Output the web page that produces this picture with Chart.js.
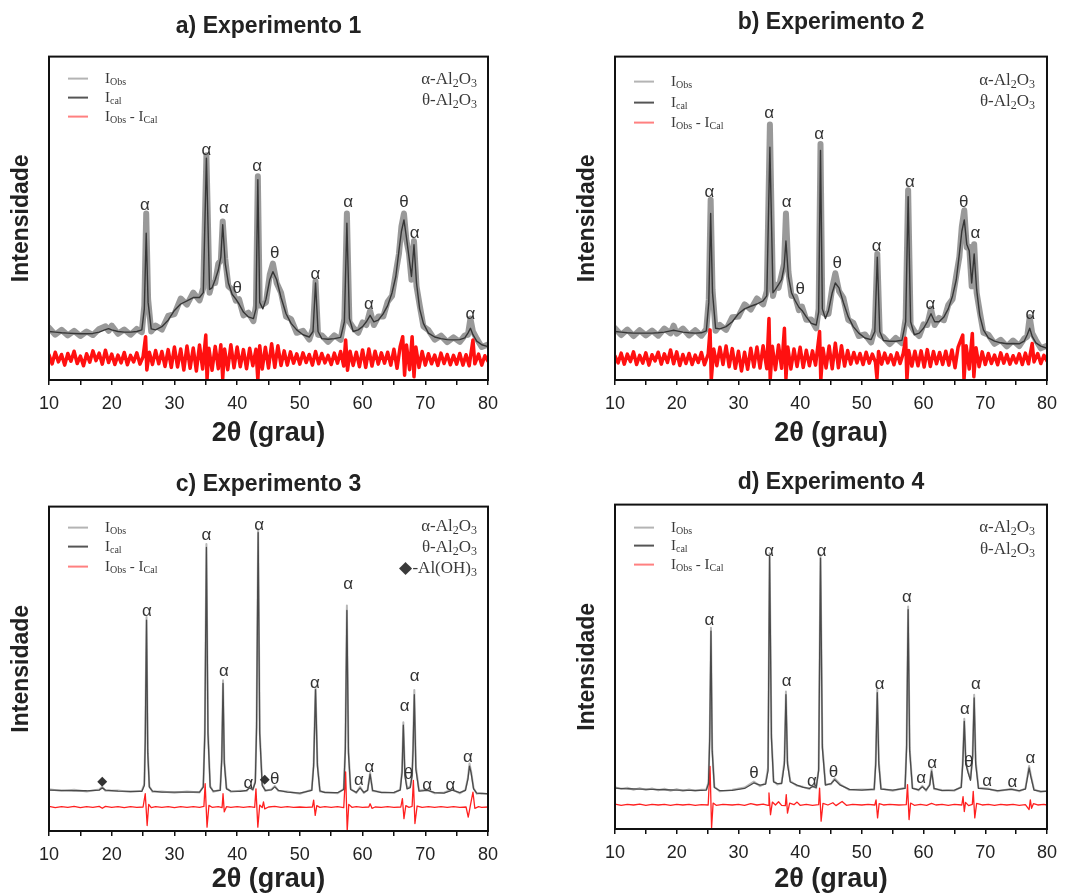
<!DOCTYPE html>
<html>
<head>
<meta charset="utf-8">
<script src="https://cdn.jsdelivr.net/npm/chart.js@4/dist/chart.umd.min.js"></script>
<style>
  html, body { margin: 0; padding: 0; background: #fff; overflow: hidden; }
  .panel { position: absolute; }
</style>
</head>
<body>
<div class="panel" id="pa" style="left:0;top:0;width:532px;height:450px"><canvas id="ca"></canvas></div>
<div class="panel" id="pb" style="left:566px;top:0;width:499px;height:450px"><canvas id="cb"></canvas></div>
<div class="panel" id="pc" style="left:0;top:450px;width:532px;height:446px"><canvas id="cc"></canvas></div>
<div class="panel" id="pd" style="left:566px;top:450px;width:499px;height:446px"><canvas id="cd"></canvas></div>
<script>
// [2theta, intensity], intensity in % of panel height
const calcA = [[10,15.0],[11,14.8],[12,14.6],[13,14.5],[14,14.4],[15,14.3],[16,14.3],[17,14.4],[18,14.8],[19,15.6],[19.5,15.9],[20,15.5],[21,15.0],[22,14.8],[23,14.8],[24,15.0],[24.8,15.5],[25.2,22],[25.5,45.4],[25.8,24],[26.3,15.8],[27,15.5],[28,16.5],[29,18.5],[30,21.5],[31,23.5],[32,24.5],[33,25.5],[34,25.5],[34.6,27],[35.1,68.6],[35.6,28],[36,28.5],[36.5,31],[37,34],[37.4,38],[37.7,48],[38.1,36],[38.6,30],[39.2,26.5],[39.8,25],[40.3,23.5],[41,21],[41.8,19.5],[42.6,19],[43,22],[43.3,61.9],[43.6,24],[44.1,22],[44.6,25],[45.2,31],[45.7,33.5],[46.3,31],[47,25.5],[47.8,20.5],[48.6,17.5],[49.5,15.5],[50.5,14],[51.5,13.3],[52.1,15],[52.5,30],[52.9,15],[53.5,12.8],[54.5,12.6],[55.5,12.8],[56.5,13.2],[57.1,18],[57.5,48.5],[57.9,19],[58.5,15],[59.3,15.5],[60,16.5],[60.6,18],[61.2,20],[61.8,18],[62.5,18.5],[63.3,20.5],[64,23],[64.7,27],[65.3,32],[65.8,40],[66.2,46],[66.6,49.5],[67,44],[67.4,38],[67.8,32],[68.2,41.8],[68.6,30],[69.1,22],[69.7,17.5],[70.5,14.5],[71.5,13.3],[72.5,12.8],[73.5,12.5],[74.5,12.4],[75.5,12.5],[76.3,13],[76.8,14.5],[77.2,16],[77.6,14],[78.2,12],[79,10.9],[80,10.3]];
const obsA = [[10,16.2],[11,14.0],[12,15.5],[13,13.8],[14,15.2],[15,13.6],[16,15.0],[17,13.9],[18,15.8],[19,16.6],[19.5,15.2],[20,16.8],[21,14.3],[22,15.6],[23,14.0],[24,15.8],[24.8,14.8],[25.2,23],[25.5,51.5],[25.8,25],[26.3,15.0],[27,16.8],[28,15.6],[29,19.8],[30,20.4],[31,25.2],[32,23.3],[33,27.0],[34,24.6],[34.6,28.5],[35.1,69.5],[35.6,27],[36,30.0],[36.5,30],[37,36],[37.4,37],[37.7,49],[38.1,37.5],[38.6,29],[39.2,28],[39.8,24.5],[40.3,25],[41,20],[41.8,20.8],[42.6,18.2],[43,23],[43.3,63],[43.6,23],[44.1,23.4],[44.6,24],[45.2,32.6],[45.7,36],[46.3,30],[47,27],[47.8,19.6],[48.6,18.8],[49.5,14.6],[50.5,15.2],[51.5,12.5],[52.1,16],[52.5,30.5],[52.9,14],[53.5,13.8],[54.5,11.8],[55.5,13.8],[56.5,12.4],[57.1,19],[57.5,51.5],[57.9,18],[58.5,16.2],[59.3,14.6],[60,17.8],[60.6,17],[61.2,21.4],[61.8,17],[62.5,19.6],[63.3,19.6],[64,24.2],[64.7,26],[65.3,33.2],[65.8,39],[66.2,47.5],[66.6,51.5],[67,43],[67.4,39.2],[67.8,31],[68.2,43],[68.6,29],[69.1,23.2],[69.7,16.6],[70.5,15.4],[71.5,12.5],[72.5,13.7],[73.5,11.7],[74.5,13.2],[75.5,11.8],[76.3,13.8],[76.8,14],[77.2,19],[77.6,15],[78.2,12.8],[79,10.2],[80,11]];
const diffA = [[10,7.8],[10.5,5.0],[11,8.6],[11.5,5.6],[12,7.9],[12.5,4.6],[13,8.2],[13.5,5.8],[14,8.9],[14.5,5.1],[15,7.4],[15.5,4.4],[16,8.1],[16.5,5.5],[17,9.0],[17.5,6.0],[18,8.3],[18.5,4.9],[19,9.2],[19.5,5.4],[20,8.0],[20.5,4.8],[21,7.7],[21.5,5.3],[22,8.5],[22.5,4.7],[23,7.6],[23.5,5.6],[24,8.4],[24.5,4.9],[25,7.2],[25.4,13.4],[25.6,3.1],[26,8.6],[26.5,4.8],[27,9.1],[27.5,5.0],[28,8.8],[28.5,4.2],[29,9.4],[29.5,3.9],[30,10.2],[30.5,4.0],[31,9.6],[31.5,3.1],[32,10.5],[32.5,3.6],[33,9.9],[33.5,2.8],[34,10.8],[34.5,3.4],[35.0,13.9],[35.2,0.2],[35.5,9.8],[36,3.0],[36.5,10.4],[37,3.5],[37.4,10.9],[37.7,0.5],[38,9.6],[38.5,3.2],[39,10.9],[39.5,3.8],[40,10.2],[40.5,4.1],[41,9.4],[41.5,3.5],[42,9.8],[42.5,4.4],[43,9.5],[43.3,0.0],[43.6,10.6],[44,3.4],[44.5,10.1],[45,3.7],[45.5,11.2],[46,3.9],[46.5,10.6],[47,4.5],[47.5,9.0],[48,4.6],[48.5,8.7],[49,5.2],[49.5,8.1],[50,4.9],[50.5,8.4],[51,5.4],[51.5,7.9],[52,4.6],[52.5,8.8],[53,5.0],[53.5,8.2],[54,5.3],[54.5,7.6],[55,4.8],[55.5,8.3],[56,5.2],[56.5,8.8],[57.0,4.3],[57.3,12.4],[57.6,3.0],[58,8.9],[58.5,4.5],[59,8.6],[59.5,4.1],[60,9.3],[60.5,3.9],[61,9.6],[61.5,4.3],[62,8.9],[62.5,4.9],[63,8.4],[63.5,5.2],[64,8.6],[64.5,4.6],[65,9.5],[65.5,3.6],[66,10.4],[66.4,13.4],[66.7,1.5],[67,10.8],[67.5,3.2],[67.9,13.4],[68.2,1.0],[68.5,10.2],[69,3.9],[69.5,8.8],[70,4.6],[70.5,8.1],[71,5.0],[71.5,7.7],[72,4.5],[72.5,8.3],[73,5.1],[73.5,7.9],[74,4.7],[74.5,7.6],[75,4.9],[75.5,8.2],[76,4.6],[76.5,7.8],[77,4.4],[77.6,12.4],[77.9,5.0],[78.5,8.0],[79,4.6],[79.5,7.5],[80,5.8]];

const calcB = [[10,15.0],[11,14.8],[12,14.6],[13,14.5],[14,14.5],[15,14.5],[16,14.5],[17,14.6],[18,14.8],[19,15.2],[19.5,15.4],[20,15.2],[21,14.8],[22,14.6],[23,14.5],[24,14.6],[24.8,15.2],[25.2,24],[25.5,51.5],[25.8,27],[26.3,16],[27,15.8],[28,16.5],[29,18],[30,20.5],[31,22],[32,22.8],[33,23.5],[34,24.5],[34.6,26],[35.1,72],[35.6,27],[36,28],[36.5,29.5],[37,31],[37.4,35],[37.7,43],[38.1,32],[38.6,27],[39.2,24.5],[39.8,22.5],[40.3,21.5],[41,19.5],[41.8,17.5],[42.6,17],[43,21],[43.3,71],[43.6,22],[44.1,19],[44.6,21.5],[45.2,27],[45.7,30],[46.3,28.5],[47,24],[47.8,19.5],[48.6,16.5],[49.5,14.5],[50.5,13],[51.5,12.5],[52.1,15],[52.5,38],[52.9,15],[53.5,12.2],[54.5,12],[55.5,12],[56.5,12.3],[57.1,18],[57.5,56.7],[57.9,18],[58.5,14],[59.3,14.5],[60,16],[60.6,18],[61.2,20.5],[61.8,18],[62.5,18],[63.3,19.5],[64,22],[64.7,26],[65.3,31],[65.8,39],[66.2,46],[66.6,49.5],[67,42],[67.4,40],[67.8,30],[68.2,39],[68.6,28],[69.1,20],[69.7,15.5],[70.5,13],[71.5,12],[72.5,11.5],[73.5,11.2],[74.5,11.3],[75.5,11.2],[76.3,12],[76.8,14],[77.2,16],[77.6,13.5],[78.2,11.5],[79,10.5],[80,9.8]];
const obsB = [[10,16.0],[11,13.9],[12,15.6],[13,13.6],[14,15.4],[15,13.8],[16,15.3],[17,13.7],[18,15.9],[19,14.4],[19.5,16.8],[20,14.3],[21,15.9],[22,13.8],[23,15.4],[24,13.7],[24.8,15.8],[25.2,25],[25.5,55.7],[25.8,28],[26.3,15.2],[27,17],[28,15.5],[29,19.4],[30,19.6],[31,23.4],[32,21.8],[33,25.2],[34,23.4],[34.6,27.5],[35.1,79],[35.6,26],[36,29.5],[36.5,28.5],[37,32.6],[37.4,36],[37.7,51.5],[38.1,33.5],[38.6,26],[39.2,25.8],[39.8,21.6],[40.3,22.7],[41,18.6],[41.8,18.7],[42.6,16],[43,22],[43.3,73],[43.6,21],[44.1,20.3],[44.6,20.5],[45.2,28.5],[45.7,33],[46.3,27.5],[47,25.4],[47.8,18.6],[48.6,17.7],[49.5,13.6],[50.5,14.1],[51.5,11.6],[52.1,16],[52.5,39],[52.9,14],[53.5,13.2],[54.5,11.1],[55.5,13],[56.5,11.4],[57.1,19],[57.5,58.7],[57.9,17],[58.5,15.1],[59.3,13.6],[60,17.2],[60.6,17],[61.2,22],[61.8,17],[62.5,19.2],[63.3,18.5],[64,23.2],[64.7,25],[65.3,32.3],[65.8,38],[66.2,47.5],[66.6,52.5],[67,41],[67.4,41.2],[67.8,29],[68.2,42],[68.6,27],[69.1,21.2],[69.7,14.6],[70.5,14],[71.5,11.2],[72.5,12.4],[73.5,10.4],[74.5,12.2],[75.5,10.5],[76.3,12.8],[76.8,13.4],[77.2,19.5],[77.6,14.5],[78.2,12.3],[79,9.8],[80,10.6]];
const diffB = [[10,7.4],[10.5,5.3],[11,8.3],[11.5,4.9],[12,8.0],[12.5,5.7],[13,8.7],[13.5,4.8],[14,7.6],[14.5,5.2],[15,8.4],[15.5,4.6],[16,7.8],[16.5,5.9],[17,8.6],[17.5,4.9],[18,8.1],[18.5,5.4],[19,9.3],[19.5,5.0],[20,8.7],[20.5,4.5],[21,7.9],[21.5,5.1],[22,8.2],[22.5,4.8],[23,7.7],[23.5,5.4],[24,8.5],[24.5,4.7],[25.1,8.0],[25.4,15.5],[25.6,0],[26,9.6],[26.5,4.4],[27,10.1],[27.5,4.8],[28,10.5],[28.5,4.1],[29,9.7],[29.5,3.6],[30,8.9],[30.5,2.8],[31,8.6],[31.5,3.3],[32,9.8],[32.5,4.0],[33,10.2],[33.5,3.7],[34,10.6],[34.6,3.5],[34.95,19],[35.15,0],[35.5,10.4],[36,3.2],[36.5,10.8],[37,3.6],[37.45,16],[37.7,0.5],[38,10.2],[38.5,3.4],[39,9.6],[39.5,4.2],[40,10.1],[40.5,3.9],[41,9.2],[41.5,4.4],[42,9.0],[42.5,4.6],[43.15,15],[43.35,0],[43.7,9.8],[44.2,3.7],[44.7,10.5],[45.2,3.5],[45.7,11.4],[46.2,3.8],[46.7,10.6],[47.2,4.3],[47.7,9.1],[48.2,4.9],[48.7,8.5],[49.2,5.3],[49.7,8.2],[50.2,4.8],[50.7,8.6],[51.2,5.2],[51.7,8.0],[52.2,5.5],[52.45,0.5],[52.7,8.8],[53.2,4.9],[53.7,8.3],[54.2,5.3],[54.7,7.8],[55.2,4.7],[55.7,8.4],[56.2,5.1],[56.7,8.2],[57.1,12.9],[57.3,0],[57.6,9.1],[58.1,4.3],[58.6,8.9],[59.1,4.4],[59.6,9.0],[60.1,4.0],[60.6,9.4],[61.1,4.2],[61.6,8.8],[62.1,5.0],[62.6,8.5],[63.1,4.8],[63.6,8.9],[64.1,4.6],[64.6,9.3],[65.1,3.8],[65.6,10.2],[66.35,13.9],[66.55,0],[66.9,10.6],[67.4,3.4],[67.9,14.4],[68.15,1],[68.5,10.0],[69,4.1],[69.5,8.7],[70,4.8],[70.5,8.2],[71,5.1],[71.5,7.7],[72,4.7],[72.5,8.4],[73,5.2],[73.5,7.9],[74,4.9],[74.5,7.5],[75,5.3],[75.5,8.1],[76,4.8],[76.5,8.3],[77,5.0],[77.6,11.3],[77.9,5.6],[78.5,8.2],[79,5.1],[79.5,7.6],[80,5.9]];

const calcC = [[10,12.6],[12,12.5],[14,12.4],[16,12.4],[18,12.6],[18.5,13.3],[19,12.6],[21,12.3],[23,12.2],[24.8,12.2],[25.2,14],[25.35,28],[25.55,65],[25.75,24],[26,13.5],[26.5,12.3],[28,12],[30,12],[32,12],[34,12],[34.6,13.5],[34.85,30],[35.1,87.4],[35.35,30],[35.7,13.5],[36.2,12.3],[37.3,12.5],[37.55,22],[37.75,45.5],[37.95,21],[38.3,13],[39,12.3],[40.5,12.2],[41.5,12.5],[42,13.3],[42.5,12.8],[42.9,15],[43.1,32],[43.35,92],[43.6,30],[44,14],[44.5,12.5],[45.5,12.7],[46,13.6],[46.6,12.5],[48,12],[50,11.7],[51.9,12.5],[52.2,20],[52.5,43.6],[52.8,20],[53.2,12.4],[54,11.8],[56,11.8],[57,12.8],[57.25,25],[57.5,68],[57.75,24],[58.1,12.8],[59,11.9],[59.6,13.3],[60.2,11.9],[60.8,12.5],[61.2,17.5],[61.6,12.5],[63,11.8],[65,11.9],[66,12.6],[66.3,18],[66.5,32.6],[66.75,17],[67.1,13],[67.6,13.4],[67.9,17],[68.05,25],[68.25,42],[68.5,19],[69,12.3],[70.4,12.5],[71.5,11.8],[73,11.7],[74.3,12.6],[75.5,11.8],[76.4,12.5],[76.8,16],[77.05,20],[77.3,18],[77.7,13],[78.2,11.7],[79,11.5],[80,11.5]];
const obsC = [[10,12.9],[12,12.3],[14,12.7],[16,12.2],[18,12.8],[18.5,13.6],[19,12.4],[21,12.5],[23,12.0],[24.8,12.4],[25.2,14.5],[25.35,29],[25.55,66],[25.75,25],[26,13.8],[26.5,12.1],[28,12.2],[30,11.8],[32,12.2],[34,11.9],[34.6,13.8],[34.85,31],[35.1,88.5],[35.35,31],[35.7,13.9],[36.2,12.1],[37.3,12.7],[37.55,23],[37.75,46.5],[37.95,22],[38.3,13.3],[39,12.1],[40.5,12.4],[41.5,12.3],[42,13.6],[42.5,12.6],[42.9,15.5],[43.1,33],[43.35,93],[43.6,31],[44,14.5],[44.5,12.3],[45.5,12.9],[46,13.9],[46.6,12.3],[48,12.2],[50,11.5],[51.9,12.7],[52.2,21],[52.5,44.5],[52.8,21],[53.2,12.2],[54,12],[56,11.6],[57,13],[57.25,26],[57.5,69.5],[57.75,25],[58.1,13],[59,11.7],[59.6,13.6],[60.2,11.7],[60.8,12.7],[61.2,18],[61.6,12.3],[63,12],[65,11.7],[66,12.8],[66.3,19],[66.5,33.5],[66.75,18],[67.1,13.2],[67.6,13.7],[67.9,17.5],[68.05,26],[68.25,43.5],[68.5,20],[69,12.5],[70.4,12.7],[71.5,11.6],[73,11.9],[74.3,12.8],[75.5,11.6],[76.4,12.7],[76.8,16.5],[77.05,20.8],[77.3,18.5],[77.7,13.3],[78.2,11.5],[79,11.7],[80,11.3]];
const diffC = [[10,7.6],[11,7.2],[12,7.5],[13,7.3],[14,7.6],[15,7.2],[16,7.5],[17,7.3],[18,7.6],[18.5,7.0],[19,7.6],[20,7.3],[21,7.5],[22,7.2],[23,7.5],[24,7.3],[25,7.4],[25.35,11.5],[25.65,1.7],[25.9,8.2],[26.3,7.2],[27,7.5],[28,7.3],[29,7.5],[30,7.2],[31,7.5],[32,7.3],[33,7.5],[34,7.3],[34.7,7.6],[34.9,14.6],[35.2,1.2],[35.5,7.9],[36,7.3],[37,7.5],[37.6,7.2],[37.75,11.5],[37.95,5.9],[38.3,7.5],[39,7.3],[40,7.5],[41,7.3],[42,7.5],[42.8,7.3],[43.0,13],[43.3,1.2],[43.6,8.0],[44.0,7.2],[44.2,9],[44.4,6.8],[45,7.4],[46,7.6],[47,7.3],[48,7.5],[49,7.3],[50,7.4],[51,7.3],[52.0,7.4],[52.2,9.5],[52.45,4.8],[52.7,7.8],[53.2,7.3],[54,7.5],[55,7.3],[56,7.5],[57.0,7.2],[57.3,18.2],[57.55,0],[57.8,8.2],[58.3,7.3],[59,7.5],[60,7.3],[61,7.4],[61.2,8.4],[61.5,7.0],[62,7.4],[63,7.3],[64,7.5],[65,7.3],[66.1,7.4],[66.35,10],[66.6,3.8],[66.9,7.8],[67.4,7.3],[67.9,7.6],[68.1,15.6],[68.35,2.3],[68.7,7.7],[69.5,7.3],[70.5,7.5],[71.5,7.3],[72.5,7.5],[73.5,7.3],[74.5,7.5],[75.5,7.3],[76.5,7.4],[76.85,4.3],[77.2,8],[77.6,12],[77.9,7.0],[78.5,7.5],[79,7.3],[80,7.4]];

const calcD = [[10,12.6],[12,12.4],[14,12.3],[16,12.2],[18,12.1],[20,12.0],[22,11.9],[24,11.9],[24.8,12],[25.15,14],[25.35,28],[25.55,61],[25.75,24],[26.1,12.8],[27,11.8],[29,11.9],[31,12.5],[32.5,14.2],[33.5,13.5],[34.4,13.8],[34.8,18],[35.05,84],[35.35,28],[35.7,14.5],[36.3,14],[37,14],[37.45,20],[37.7,41.4],[37.95,20],[38.4,14.5],[39.5,13.5],[40.5,12.8],[41.5,12.5],[42,13.1],[42.6,12.8],[43.0,18],[43.3,83.5],[43.6,25],[44.1,13.5],[45,14],[45.6,15.2],[46.5,13.5],[48,12.2],[50,12],[52,12.3],[52.25,20],[52.5,42],[52.75,20],[53.1,12.3],[55,12],[57,12.5],[57.25,25],[57.5,67.6],[57.75,24],[58.2,12.5],[59.2,12.1],[59.8,13],[60.4,12],[61.0,13.5],[61.3,17.8],[61.7,12.5],[63,11.8],[65,12],[66.1,12.8],[66.35,20],[66.6,33.2],[66.85,20],[67.2,17.5],[67.6,15],[67.95,22],[68.2,40.4],[68.45,20],[68.9,12.5],[70.4,12.3],[72,11.8],[74.2,12.2],[75.5,11.8],[76.5,12.3],[76.85,16],[77.1,18.8],[77.4,16],[77.9,12],[79,11.6],[80,11.6]];
const obsD = [[10,12.9],[11,12.3],[12,12.7],[13,12.1],[14,12.6],[15,12.0],[16,12.5],[17,11.9],[18,12.4],[19,11.8],[20,12.3],[21,11.7],[22,12.2],[23,11.7],[24,12.1],[24.8,12.2],[25.15,14.5],[25.35,29],[25.55,62],[25.75,25],[26.1,13],[27,11.6],[29,12.1],[31,12.8],[32.5,14.6],[33.5,13.2],[34.4,14.1],[34.8,19],[35.05,85],[35.35,29],[35.7,14.8],[36.3,13.7],[37,14.3],[37.45,21],[37.7,42.4],[37.95,21],[38.4,14.8],[39.5,13.3],[40.5,13],[41.5,12.3],[42,13.4],[42.6,12.6],[43.0,18.5],[43.3,84.5],[43.6,26],[44.1,13.8],[45,13.8],[45.6,15.6],[46.5,13.8],[48,12],[50,12.2],[52,12.1],[52.25,21],[52.5,43],[52.75,21],[53.1,12.5],[55,11.8],[57,12.7],[57.25,26],[57.5,68.6],[57.75,25],[58.2,12.7],[59.2,11.9],[59.8,13.3],[60.4,11.8],[61.0,13.8],[61.3,18.4],[61.7,12.3],[63,12],[65,11.8],[66.1,13],[66.35,21],[66.6,34],[66.85,21],[67.2,17.8],[67.6,15.4],[67.95,23],[68.2,41.4],[68.45,21],[68.9,12.7],[70.4,12.5],[72,11.6],[74.2,12.4],[75.5,11.6],[76.5,12.5],[76.85,16.5],[77.1,19.4],[77.4,16.5],[77.9,12.2],[79,11.4],[80,11.8]];
const diffD = [[10,7.7],[11,7.3],[12,7.6],[13,7.4],[14,7.7],[15,7.3],[16,7.6],[17,7.4],[18,7.6],[19,7.3],[20,7.6],[21,7.4],[22,7.6],[23,7.3],[24,7.5],[25.1,7.4],[25.4,19.3],[25.65,0.3],[25.9,8.0],[26.4,7.3],[27.5,7.6],[29,7.4],[30,7.6],[31,7.3],[32,7.8],[33,7.4],[34,7.7],[34.8,7.3],[34.95,11.1],[35.2,4.4],[35.5,8.3],[36,7.4],[36.5,8.4],[37,7.3],[37.6,7.2],[37.75,10.6],[37.95,4.9],[38.3,8.0],[39,7.5],[39.5,8.3],[40,7.3],[41,7.6],[42,7.3],[43.0,7.5],[43.15,12.6],[43.4,2.4],[43.7,7.9],[44.5,7.4],[45.3,8.1],[45.8,7.2],[46.8,8.5],[47.5,7.3],[48.5,7.6],[50,7.4],[51,7.6],[52.1,7.4],[52.3,9],[52.55,3.4],[52.8,7.8],[53.5,7.4],[54.5,7.6],[56,7.4],[57.2,7.5],[57.4,13.7],[57.65,2.9],[57.9,8.0],[58.5,7.3],[59.5,7.6],[60.5,7.3],[61.3,7.9],[62,7.4],[63,7.6],[64,7.3],[65,7.6],[66.2,7.4],[66.4,10],[66.6,5.4],[66.8,8.2],[67.3,7.2],[67.9,7.6],[68.05,11.6],[68.3,3.4],[68.6,7.9],[69.5,7.4],[70.5,7.6],[71.5,7.3],[72.5,7.6],[73.5,7.4],[74.5,7.6],[75.5,7.3],[76.5,7.5],[77.1,6.0],[77.3,9],[77.5,6.4],[77.8,7.8],[78.5,7.4],[79.5,7.6],[80,7.4]];

// peak markers [2theta, height, symbol]
const labA = [[25.3,54.1,'α'],[35.1,71.1,'α'],[37.9,53.1,'α'],[40,28.4,'θ'],[43.2,66,'α'],[46,39.2,'θ'],[52.5,32.8,'α'],[57.7,55,'α'],[61,23.5,'α'],[66.6,54.9,'θ'],[68.3,45.4,'α'],[77.2,20.4,'α']];
const labB = [[25.3,58,'α'],[35,82.5,'α'],[37.8,54.8,'α'],[40,28,'θ'],[43.1,76,'α'],[46,36,'θ'],[52.4,41.4,'α'],[57.8,61,'α'],[61.1,23.5,'α'],[66.5,54.8,'θ'],[68.4,45.4,'α'],[77.3,20.4,'α']];
const labC = [[18.5,15.1,'◆'],[25.6,67.6,'α'],[35.1,91.2,'α'],[37.9,49.3,'α'],[41.8,14.8,'α'],[43.5,94.2,'α'],[44.4,15.8,'◆'],[46,15.8,'θ'],[52.4,45.5,'α'],[57.7,76.1,'α'],[59.4,15.6,'α'],[61.1,19.5,'α'],[66.7,38.5,'α'],[67.3,17.5,'θ'],[68.3,47.7,'α'],[70.3,14.1,'α'],[74,14.1,'α'],[76.8,22.8,'α']];
const labD = [[25.3,64.3,'α'],[32.5,17.3,'θ'],[35,85.5,'α'],[37.8,45.5,'α'],[41.9,14.7,'α'],[43.5,85.5,'α'],[45.4,17.5,'θ'],[52.9,44.6,'α'],[57.3,71.5,'α'],[59.6,15.7,'α'],[61.4,20.3,'α'],[66.7,37,'α'],[67.3,20.6,'θ'],[68.5,44.5,'α'],[70.3,14.7,'α'],[74.4,14.4,'α'],[77.3,21.9,'α']];

const xTicks = [10, 20, 30, 40, 50, 60, 70, 80];
const titles = ['a) Experimento 1', 'b) Experimento 2', 'c) Experimento 3', 'd) Experimento 4'];

const SANS = '"Liberation Sans", Arial, sans-serif';
const SERIF = '"Liberation Serif", "Times New Roman", serif';

// text pieces: [text, subscript?]
const legendRows = [
  { color: '#b4b4b4', parts: [['I', 0], ['Obs', 1]] },
  { color: '#555555', parts: [['I', 0], ['cal', 1]] },
  { color: '#ff8080', parts: [['I', 0], ['Obs', 1], [' - I', 0], ['Cal', 1]] },
];
const phaseAlpha = [['α-Al', 0], ['2', 1], ['O', 0], ['3', 1]];
const phaseTheta = [['θ-Al', 0], ['2', 1], ['O', 0], ['3', 1]];
const phaseOH = [['◆-Al(OH)', 0], ['3', 1]];

function drawRich(ctx, parts, x, y, align, size) {
  const sub = Math.round(size * 0.68);
  let w = 0;
  parts.forEach(([t, s]) => {
    ctx.font = (s ? sub : size) + 'px ' + SERIF;
    w += ctx.measureText(t).width;
  });
  let cx = align === 'right' ? x - w : x;
  ctx.textAlign = 'left';
  ctx.textBaseline = 'middle';
  parts.forEach(([t, s]) => {
    ctx.font = (s ? sub : size) + 'px ' + SERIF;
    ctx.fillText(t, cx, s ? y + 4 : y);
    cx += ctx.measureText(t).width;
  });
}

const decor = {
  id: 'decor',
  afterDatasetsDraw(chart, args, o) {
    const { ctx, chartArea: a, scales: { x, y } } = chart;
    ctx.save();
    ctx.strokeStyle = '#111';
    ctx.lineWidth = 2;
    ctx.strokeRect(a.left, a.top, a.right - a.left, a.bottom - a.top);

    ctx.fillStyle = '#333';
    ctx.textAlign = 'center';
    ctx.textBaseline = 'middle';
    o.peaks.forEach(([px, py, t]) => {
      ctx.font = (t === '◆' ? '13px "DejaVu Sans", ' : '17px ') + SANS;
      ctx.fillText(t, x.getPixelForValue(px), y.getPixelForValue(py));
    });

    legendRows.forEach((r, i) => {
      const ly = a.top + o.legY[i];
      ctx.strokeStyle = r.color;
      ctx.lineWidth = 2;
      ctx.beginPath();
      ctx.moveTo(a.left + 19, ly);
      ctx.lineTo(a.left + 39, ly);
      ctx.stroke();
      ctx.fillStyle = '#3a3a3a';
      drawRich(ctx, r.parts, a.left + 56, ly, 'left', 15);
    });

    ctx.fillStyle = '#3a3a3a';
    o.phases.forEach((p, i) => {
      drawRich(ctx, p, a.right - o.phaseDx, a.top + o.phaseY[i], 'right', 17);
    });
    ctx.restore();
  }
};

function makeChart(id, t, obs, calc, diff, peaks, cfg) {
  const pts = (arr) => arr.map(([px, py]) => ({ x: px, y: py }));
  const line = { showLine: true, pointRadius: 0, borderJoinStyle: 'round', borderCapStyle: 'round' };
  new Chart(document.getElementById(id), {
    type: 'scatter',
    data: {
      datasets: [
        Object.assign({ label: 'Ical', data: pts(calc), borderColor: cfg.calcColor, borderWidth: cfg.calcW, order: 0 }, line),
        Object.assign({ label: 'Iobs - Ical', data: pts(diff), borderColor: cfg.diffColor, borderWidth: cfg.diffW, order: 1 }, line),
        Object.assign({ label: 'Iobs', data: pts(obs), borderColor: cfg.obsColor, borderWidth: cfg.obsW, order: 2 }, line),
      ],
    },
    options: {
      responsive: true,
      maintainAspectRatio: false,
      animation: false,
      events: [],
      layout: { padding: { left: 0, right: cfg.padR, top: 0, bottom: 0 } },
      plugins: {
        legend: { display: false },
        tooltip: { enabled: false },
        title: {
          display: true,
          text: t,
          fullSize: false,
          color: '#222',
          font: { family: SANS, size: 23, weight: 'bold' },
          padding: { top: cfg.titleTop, bottom: cfg.titleBottom },
        },
        decor: { peaks: peaks, legY: cfg.legY, phases: cfg.phases, phaseY: cfg.phaseY, phaseDx: cfg.phaseDx },
      },
      scales: {
        x: {
          type: 'linear',
          min: 10,
          max: 80,
          afterFit: (s) => { s.height = cfg.xH; },
          border: { display: false },
          grid: { display: true, drawOnChartArea: false, drawTicks: true, tickLength: 5, color: '#111', lineWidth: 1.5 },
          ticks: {
            stepSize: 5,
            autoSkip: false,
            maxRotation: 0,
            padding: 8,
            color: '#222',
            font: { family: SANS, size: 18 },
            callback: (v) => (xTicks.includes(v) ? String(v) : ''),
          },
          title: {
            display: true,
            text: '2θ (grau)',
            color: '#222',
            font: { family: SANS, size: 27, weight: 'bold' },
            padding: { top: 0, bottom: 0 },
          },
        },
        y: {
          min: 0,
          max: 100,
          afterFit: (s) => { s.width = 49; },
          border: { display: false },
          grid: { display: false },
          ticks: { display: false },
          title: {
            display: true,
            text: 'Intensidade',
            color: '#222',
            font: { family: SANS, size: 23, weight: 'bold' },
            padding: { top: 8, bottom: 0 },
          },
        },
      },
    },
    plugins: [decor],
  });
}

const noisy = { obsColor: 'rgba(135,135,135,0.85)', obsW: 6, calcColor: '#363636', calcW: 1.4, diffColor: '#ff1010', diffW: 3.5 };
const clean = { obsColor: '#b8b8b8', obsW: 2, calcColor: '#4a4a4a', calcW: 1.3, diffColor: '#ff2020', diffW: 1.3 };

window.addEventListener('DOMContentLoaded', () => {
  makeChart('ca', titles[0], obsA, calcA, diffA, labA, Object.assign({}, noisy, {
    padR: 44, xH: 70, titleTop: 13, titleBottom: 16,
    legY: [22, 41, 60], phases: [phaseAlpha, phaseTheta], phaseY: [23, 44], phaseDx: 11,
  }));
  makeChart('cb', titles[1], obsB, calcB, diffB, labB, Object.assign({}, noisy, {
    padR: 10, xH: 70, titleTop: 9, titleBottom: 20,
    legY: [25, 46, 66], phases: [phaseAlpha, phaseTheta], phaseY: [24, 45], phaseDx: 12,
  }));
  makeChart('cc', titles[2], obsC, calcC, diffC, labC, Object.assign({}, clean, {
    padR: 44, xH: 65, titleTop: 21, titleBottom: 8,
    legY: [21, 40, 60], phases: [phaseAlpha, phaseTheta, phaseOH], phaseY: [20, 41, 62], phaseDx: 11,
  }));
  makeChart('cd', titles[3], obsD, calcD, diffD, labD, Object.assign({}, clean, {
    padR: 10, xH: 67, titleTop: 19, titleBottom: 8,
    legY: [23, 41, 60], phases: [phaseAlpha, phaseTheta], phaseY: [23, 45], phaseDx: 12,
  }));
});
</script>
</body>
</html>
